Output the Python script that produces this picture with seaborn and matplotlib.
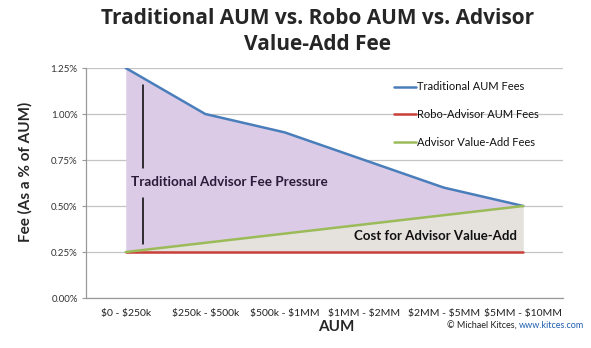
import matplotlib
matplotlib.use("Agg")
import matplotlib.pyplot as plt
import seaborn as sns
import pandas as pd
import numpy as np

categories = ["\\$0 - \\$250k", "\\$250k - \\$500k", "\\$500k - \\$1MM", "\\$1MM - \\$2MM",
              "\\$2MM - \\$5MM", "\\$5MM - \\$10MM"]
traditional = [1.25, 1.00, 0.90, 0.75, 0.60, 0.50]
robo = [0.25, 0.25, 0.25, 0.25, 0.25, 0.25]
value_add = [0.25, 0.30, 0.35, 0.40, 0.45, 0.50]
series_names = ["Traditional AUM Fees", "Robo-Advisor AUM Fees", "Advisor Value-Add Fees"]
y_ticks = [0.0, 0.25, 0.50, 0.75, 1.00, 1.25]

sns.set_style("white")
plt.rcParams['font.family'] = ['Lato', 'DejaVu Sans']

x = np.arange(len(categories))
df = pd.DataFrame({
    "x": np.concatenate([x, x, x]),
    "fee": traditional + robo + value_add,
    "series": [series_names[0]] * 6 + [series_names[1]] * 6 + [series_names[2]] * 6,
})

fig = plt.figure(figsize=(5.91, 3.48), dpi=100)
ax = fig.add_axes([86/591, 1 - 298/348, (563-86)/591, (298-68)/348])

ax.fill_between(x, value_add, traditional, color="#dccbe6", lw=0, zorder=1)
ax.fill_between(x, robo, value_add, color="#e5e2de", lw=0, zorder=1)

palette = {series_names[0]: "#4a7ebb", series_names[1]: "#c9403a", series_names[2]: "#9bbb59"}
sns.lineplot(data=df, x="x", y="fee", hue="series", palette=palette, linewidth=1.8,
             ax=ax, zorder=3, hue_order=series_names)

ax.set_xlim(-0.5, len(categories) - 0.5)
ax.set_ylim(0, 1.25)
ax.set_yticks(y_ticks)
ax.set_yticklabels([f"{v:.2f}%" for v in y_ticks], fontsize=7, color="#333333")
ax.set_xticks(x)
ax.set_xticklabels(categories, fontsize=7.5, color="#222222")
ax.set_xticks(np.arange(-0.5, len(categories)), minor=True)
ax.tick_params(axis="x", which="major", length=0, pad=8)
ax.tick_params(axis="x", which="minor", length=3, color="#999999")
ax.tick_params(axis="y", length=3, color="#999999", pad=3, left=True)
ax.yaxis.grid(True, color="#c4c4c4", lw=0.9, zorder=0)
ax.set_axisbelow(True)
for s in ["top", "right"]:
    ax.spines[s].set_visible(False)
for s in ["left", "bottom"]:
    ax.spines[s].set_color("#999999")
    ax.spines[s].set_linewidth(0.9)
ax.set_xlabel("")
ax.set_ylabel("")

leg = ax.legend(loc="upper left", bbox_to_anchor=(0.625, 0.985), frameon=False,
                fontsize=8, handlelength=2.0, handletextpad=0.1, labelspacing=1.5)
for t in leg.get_texts():
    t.set_color("#111111")

# annotations
ax.text(0.066, 0.63, "Traditional Advisor Fee Pressure", fontsize=9.7, fontweight="bold",
        color="#2b1b3b", ha="left", va="center", zorder=4)
ax.plot([0.217, 0.217], [0.707, 1.157], color="black", lw=1.1, zorder=4)
ax.plot([0.217, 0.217], [0.293, 0.543], color="black", lw=1.1, zorder=4)
ax.text(4.92, 0.337, "Cost for Advisor Value-Add", fontsize=9.5, fontweight="bold",
        color="#111111", ha="right", va="center", zorder=4)

title_font = ['Open Sans', 'DejaVu Sans']
fig.text(318/591, 1 - 18/348, "Traditional AUM vs. Robo AUM vs. Advisor", fontsize=15,
         fontweight="bold", ha="center", va="center", family=title_font)
fig.text(318/591, 1 - 45/348, "Value-Add Fee", fontsize=15,
         fontweight="bold", ha="center", va="center", family=title_font)
fig.text(25/591, 1 - 172/348, "Fee (As a % of AUM)", fontsize=11, fontweight="bold",
         rotation=90, ha="center", va="center")
fig.text(336/591, 1 - 327/348, "AUM", fontsize=11, fontweight="bold", ha="center", va="center")
t1 = fig.text(447/591, 1 - 326/348, "© Michael Kitces, ", fontsize=6.5, ha="left", va="center",
              color="#222222")
fig.canvas.draw()
bb = t1.get_window_extent()
fig.text(bb.x1 / fig.bbox.width, 1 - 326/348, "www.kitces.com", fontsize=6.5, ha="left",
         va="center", color="#1f5fb0")
fig.savefig("out.png", dpi=100)
